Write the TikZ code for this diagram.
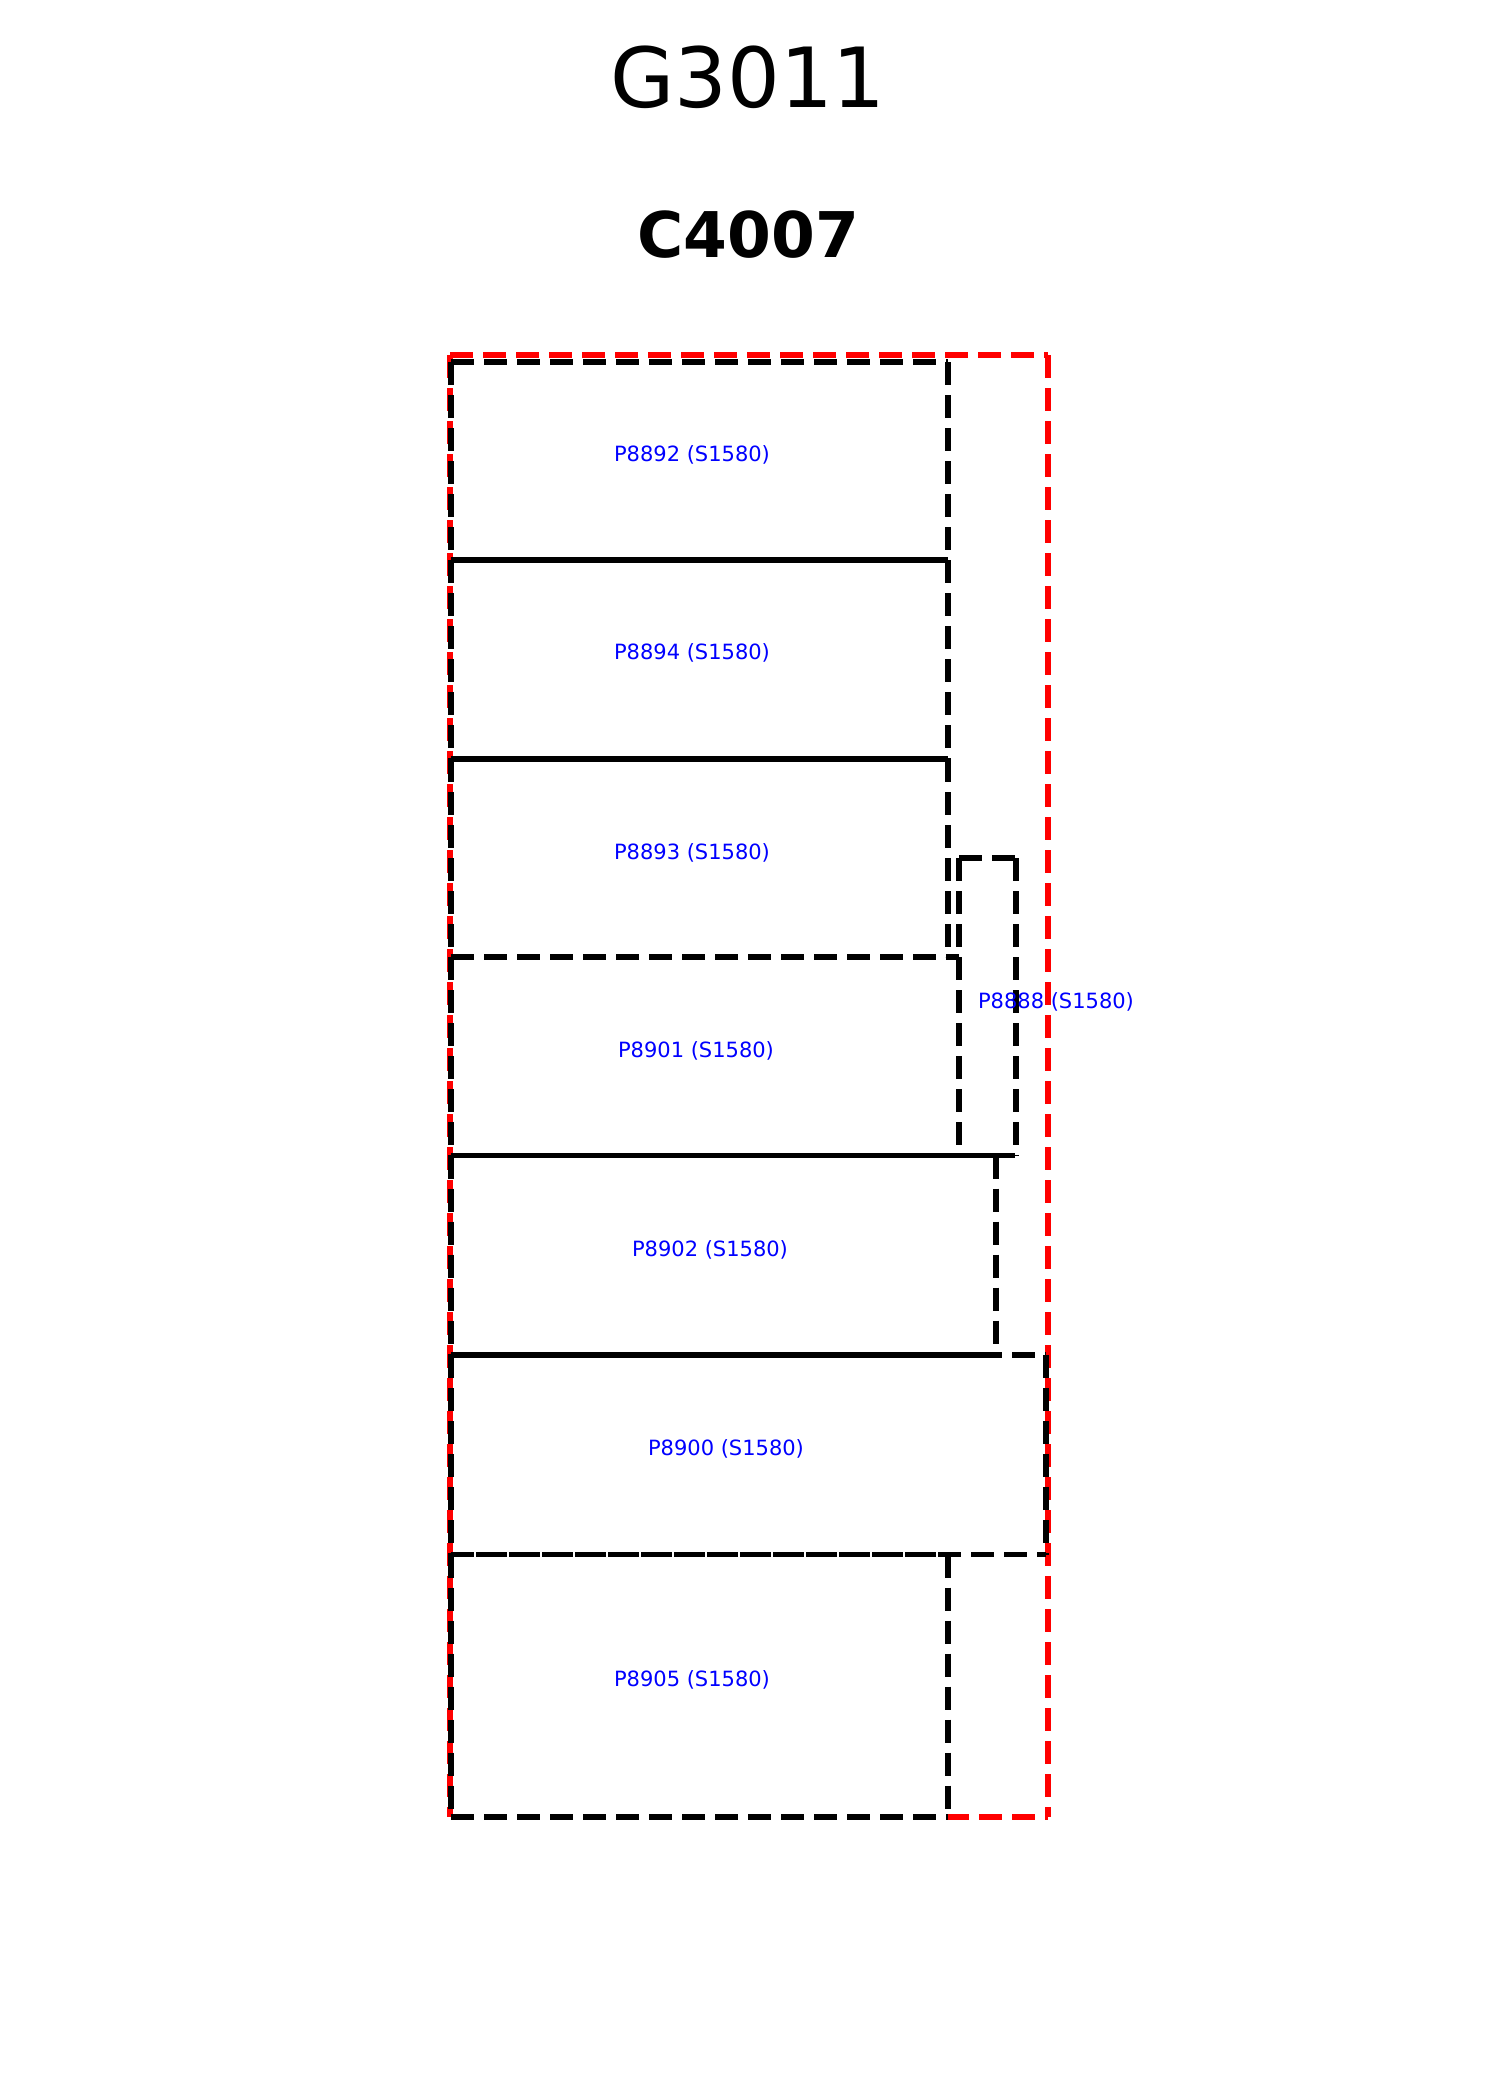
\documentclass[tikz,border=0pt]{standalone}
\usepackage{fontspec}
\setmainfont{DejaVu Sans}
\newcommand{\pbox}[6]{%
  \draw[blkline,dash phase=#5] (#1,#2) -- (#3,#2);
  \draw[blkline,dash phase=#6] (#1,#4) -- (#3,#4);
  \draw[blkline] (#1,#2) -- (#1,#4);
  \draw[blkline] (#3,#2) -- (#3,#4);}
\begin{document}
\begin{tikzpicture}[x=0.5pt,y=-0.5pt,
  redline/.style={draw=red,line width=2.9pt,dash pattern=on 11.5pt off 5pt},
  blkline/.style={draw=black,line width=2.9pt,dash pattern=on 11.5pt off 5pt},
  lbl/.style={text=blue,font=\fontsize{10.5}{12}\selectfont,anchor=base,inner sep=0pt}]
\useasboundingbox[fill=white] (0,0) rectangle (1500,2100);

% titles
\node[anchor=base,inner sep=0pt,font=\fontsize{41.5}{48}\selectfont] (g) at (748,107) {G3011};
\node[anchor=base,inner sep=0pt,font=\fontsize{31.5}{36}\selectfont\bfseries] (c) at (748,257) {C4007};

% outer red boundary
\draw[redline] (450,355) -- (1048,355);
\draw[redline] (1048,355) -- (1048,1817);
\draw[redline] (451,1817) -- (1048,1817);
\draw[redline] (450,355) -- (450,1817);

% parcels
\pbox{451}{362}{948}{560}{0pt}{8.25pt}
\pbox{451}{560}{948}{759}{0pt}{8.25pt}
\pbox{451}{759}{948}{957}{0pt}{0pt}
\pbox{451}{957}{959}{1155.5}{0pt}{8.25pt}
\pbox{451}{1155.5}{996}{1355}{0pt}{8.25pt}
\pbox{451}{1355}{1046}{1554.5}{0pt}{4pt}
\pbox{451}{1554.5}{948}{1817}{0pt}{0pt}
\pbox{959}{858}{1016}{1155.5}{0pt}{0pt}

% labels
\node[lbl] (p8892) at (692,461.5) {P8892 (S1580)};
\node[lbl] (p8894) at (692,659.5) {P8894 (S1580)};
\node[lbl] (p8893) at (692,859) {P8893 (S1580)};
\node[lbl] (p8901) at (696,1057) {P8901 (S1580)};
\node[lbl] (p8888) at (1056,1008) {P8888 (S1580)};
\node[lbl] (p8902) at (710,1256.5) {P8902 (S1580)};
\node[lbl] (p8900) at (726,1455) {P8900 (S1580)};
\node[lbl] (p8905) at (692,1686.5) {P8905 (S1580)};
\end{tikzpicture}
\end{document}
